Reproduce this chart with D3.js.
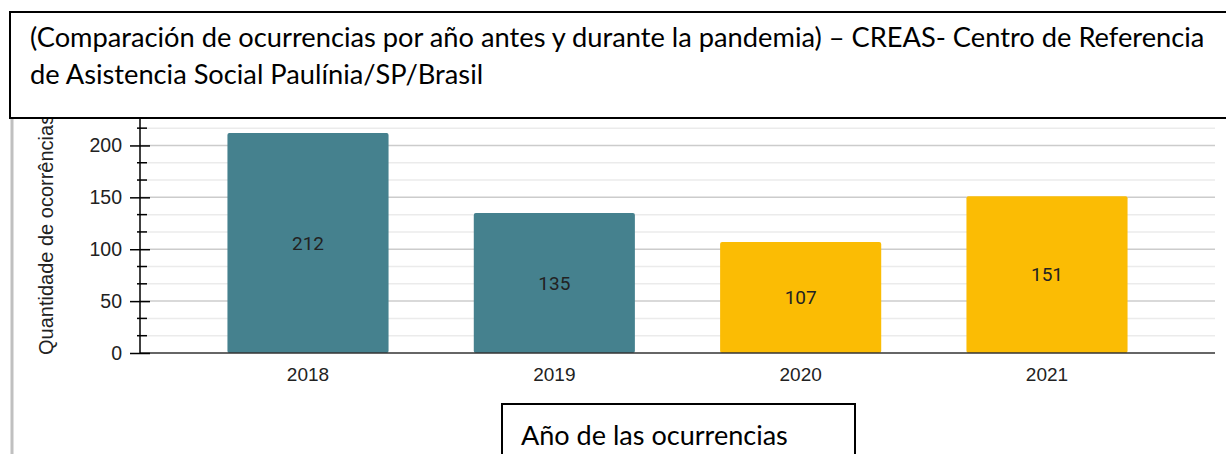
<!DOCTYPE html>
<html>
<head>
<meta charset="utf-8">
<script src="https://cdn.jsdelivr.net/npm/d3@7"></script>
<style>
  body { margin: 0; background: #fff; }
  svg { display: block; }
</style>
</head>
<body>
<div class="chart"></div>
<script>
var years = ["2018", "2019", "2020", "2021"];
var counts = [212, 135, 107, 151];
var barColors = ["#45818e", "#45818e", "#fbbc04", "#fbbc04"];
var majorTicks = [0, 50, 100, 150, 200];
var minorTicks = [50/3, 100/3, 200/3, 250/3, 350/3, 400/3, 500/3, 550/3, 650/3];
var titleLines = [
  "(Comparación de ocurrencias por año antes y durante la pandemia) – CREAS- Centro de Referencia",
  "de Asistencia Social Paulínia/SP/Brasil"
];
var yTitle = "Quantidade de ocorrências";
var xTitle = "Año de las ocurrencias";

var W = 1226, H = 454;

var svg = d3.select(".chart")
  .append("svg")
    .attr("width", W)
    .attr("height", H);

svg.append("rect").attr("width", W).attr("height", H).attr("fill", "#fff");

var x = d3.scaleBand()
    .domain(years)
    .range([140, 1215])
    .paddingInner(0.346)
    .paddingOuter(0.355);

var y = d3.scaleLinear()
    .domain([0, 225])
    .range([353, 119.5]);

// minor gridlines
svg.append("g")
  .selectAll("line")
  .data(minorTicks)
  .enter().append("line")
    .attr("x1", 140).attr("x2", 1215)
    .attr("y1", function(d) { return y(d); })
    .attr("y2", function(d) { return y(d); })
    .attr("stroke", "#ebebeb")
    .attr("stroke-width", 1.5);

// major gridlines
svg.append("g")
  .selectAll("line")
  .data(majorTicks.slice(1))
  .enter().append("line")
    .attr("x1", 140).attr("x2", 1215)
    .attr("y1", function(d) { return y(d); })
    .attr("y2", function(d) { return y(d); })
    .attr("stroke", "#cccccc")
    .attr("stroke-width", 1.5);

// bars
svg.append("g")
  .selectAll("rect")
  .data(counts)
  .enter().append("rect")
    .attr("x", function(d, i) { return x(years[i]); })
    .attr("y", function(d) { return y(d); })
    .attr("width", x.bandwidth())
    .attr("height", function(d) { return y(0) - y(d); })
    .attr("rx", 2)
    .attr("fill", function(d, i) { return barColors[i]; });

// value labels
svg.append("g")
  .selectAll("text")
  .data(counts)
  .enter().append("text")
    .attr("x", function(d, i) { return x(years[i]) + x.bandwidth() / 2; })
    .attr("y", function(d) { return (y(d) + y(0)) / 2; })
    .attr("dy", "0.35em")
    .attr("text-anchor", "middle")
    .attr("font-family", "Roboto")
    .attr("font-size", "19px")
    .attr("fill", "#222")
    .text(function(d) { return d; });

// x axis line + labels
svg.append("line")
    .attr("x1", 140).attr("x2", 1215)
    .attr("y1", y(0)).attr("y2", y(0))
    .attr("stroke", "#333")
    .attr("stroke-width", 1.5);

svg.append("g")
  .selectAll("text")
  .data(years)
  .enter().append("text")
    .attr("x", function(d) { return x(d) + x.bandwidth() / 2; })
    .attr("y", 381)
    .attr("text-anchor", "middle")
    .attr("font-family", "Liberation Sans, Arial")
    .attr("font-size", "19px")
    .attr("fill", "#222")
    .text(function(d) { return d; });

// y axis with major and minor ticks
var yAxis = svg.append("g")
    .attr("transform", "translate(140,0)")
    .call(d3.axisLeft(y).tickValues(majorTicks).tickSize(10).tickSizeOuter(0).tickPadding(8));
yAxis.select(".domain").attr("stroke", "#000").attr("stroke-width", 1.5).attr("d", "M0,115V" + y(0));
yAxis.selectAll(".tick line").attr("x2", 10).attr("x1", -10).attr("stroke", "#000").attr("stroke-width", 1.5);
yAxis.selectAll(".tick text")
    .attr("font-family", "Liberation Sans, Arial")
    .attr("font-size", "19.5px")
    .attr("fill", "#222");

svg.append("g")
  .selectAll("line")
  .data(minorTicks)
  .enter().append("line")
    .attr("x1", 137).attr("x2", 147)
    .attr("y1", function(d) { return y(d); })
    .attr("y2", function(d) { return y(d); })
    .attr("stroke", "#000")
    .attr("stroke-width", 1.5);

svg.append("text")
    .attr("transform", "translate(53,355) rotate(-90)")
    .attr("font-family", "Liberation Sans, Arial")
    .attr("font-size", "20px")
    .attr("fill", "#222")
    .text(yTitle);

// left grey rule
svg.append("line")
    .attr("x1", 12).attr("x2", 12)
    .attr("y1", 118).attr("y2", H)
    .attr("stroke", "#c0c0c0")
    .attr("stroke-width", 3);

// title box
svg.append("rect")
    .attr("x", 10).attr("y", 12)
    .attr("width", 1230).attr("height", 106)
    .attr("fill", "#fff")
    .attr("stroke", "#000")
    .attr("stroke-width", 2);

var title = svg.append("g");
var line1 = title.append("text")
    .attr("x", 30).attr("y", 47)
    .attr("font-family", "Lato")
    .attr("font-size", "24px")
    .attr("fill", "#000")
    .text(titleLines[0]);
var fs = 24 * 1175 / line1.node().getComputedTextLength();
line1.attr("font-size", fs + "px");
title.append("text")
    .attr("x", 30).attr("y", 84)
    .attr("font-family", "Lato")
    .attr("font-size", fs + "px")
    .attr("fill", "#000")
    .text(titleLines[1]);

// x title box
svg.append("rect")
    .attr("x", 502).attr("y", 404)
    .attr("width", 353).attr("height", 60)
    .attr("fill", "#fff")
    .attr("stroke", "#000")
    .attr("stroke-width", 2);

var xt = svg.append("text")
    .attr("x", 521).attr("y", 445)
    .attr("font-family", "Lato")
    .attr("font-size", "28px")
    .attr("fill", "#000")
    .text(xTitle);
xt.attr("font-size", (28 * 267 / xt.node().getComputedTextLength()) + "px");
</script>
</body>
</html>
